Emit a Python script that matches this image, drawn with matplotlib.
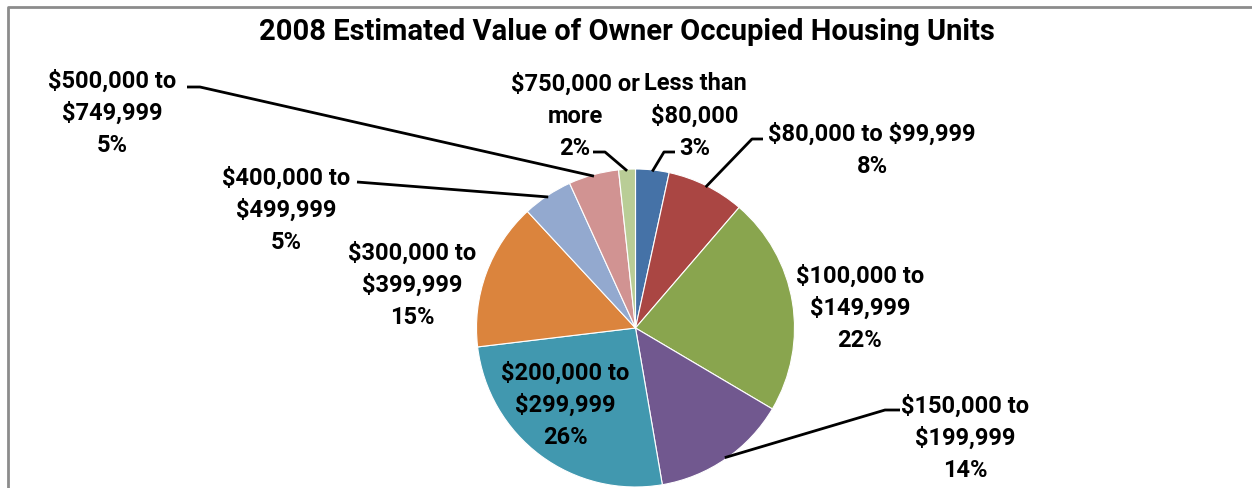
import matplotlib
matplotlib.use("Agg")
import matplotlib.pyplot as plt
from matplotlib.lines import Line2D
import numpy as np

#### DATA ####
categories = ["Less than\n$80,000", "$80,000 to $99,999", "$100,000 to\n$149,999",
              "$150,000 to\n$199,999", "$200,000 to\n$299,999", "$300,000 to\n$399,999",
              "$400,000 to\n$499,999", "$500,000 to\n$749,999", "$750,000 or\nmore"]
shares = [3.4, 7.9, 22.2, 13.8, 25.8, 15.0, 5.1, 5.1, 1.7]
colors = ["#4572A7", "#AA4643", "#89A54E", "#71588F", "#4198AF",
          "#DB843D", "#93A9CF", "#D19392", "#B9CD96"]
title = "2008 Estimated Value of Owner Occupied Housing Units"

#### LAYOUT (pixels, from top-left) ####
W, H = 1252, 489
center = (635.5, 329)
radius = 159
# label centre
label_pos = [(695, 116), (872, 150), (860, 308), (965, 438), (565, 405),
             (412, 285), (286, 210), (112, 113), (575, 116)]
# leader start + elbow (None = no leader)
leader_start = [[(675, 153), (664, 153)],
                [(763, 140), (752, 140)],
                None,
                [(900, 411), (885, 411)],
                None,
                None,
                [(357, 183), (357, 183)],
                [(187, 88), (200, 88)],
                [(593, 153), (605, 153)]]

FONT = ["Roboto", "DejaVu Sans"]


def fx(x):
    return x / W


def fy(y):
    return 1 - y / H


fig = plt.figure(figsize=(W / 100, H / 100), dpi=100)
fig.set_facecolor("white")

ax = fig.add_axes([fx(center[0] - radius), fy(center[1] + radius),
                   2 * radius / W, 2 * radius / H])
wedges, _ = ax.pie(shares, colors=colors, startangle=90, counterclock=False,
                   radius=1, wedgeprops=dict(linewidth=0.8, edgecolor="white"))
ax.set_xlim(-1, 1)
ax.set_ylim(-1, 1)
ax.set_axis_off()

# labels and leader lines
for i, w in enumerate(wedges):
    pct = round(shares[i])
    txt = f"{categories[i]}\n{pct}%"
    lx, ly = label_pos[i]
    fig.text(fx(lx), fy(ly), txt, ha="center", va="center", multialignment="center",
             fontsize=17, fontweight="bold", family=FONT, linespacing=1.5,
             parse_math=False)
    if leader_start[i] is not None:
        mid = np.deg2rad((w.theta1 + w.theta2) / 2)
        ex = center[0] + radius * 0.99 * np.cos(mid)
        ey = center[1] - radius * 0.99 * np.sin(mid)
        (sx, sy), (kx, ky) = leader_start[i]
        fig.add_artist(Line2D([fx(sx), fx(kx), fx(ex)], [fy(sy), fy(ky), fy(ey)],
                              color="black", lw=2, solid_capstyle="butt"))

# title
fig.text(fx(627), fy(32), title, ha="center", va="center",
         fontsize=21, fontweight="bold", family=FONT)

# chart frame (left and top edges visible)
fig.add_artist(Line2D([fx(8), fx(8), fx(W)], [0, fy(8), fy(8)],
                      color="#8c8c8c", lw=2))

fig.savefig("out.png", dpi=100, facecolor="white")
